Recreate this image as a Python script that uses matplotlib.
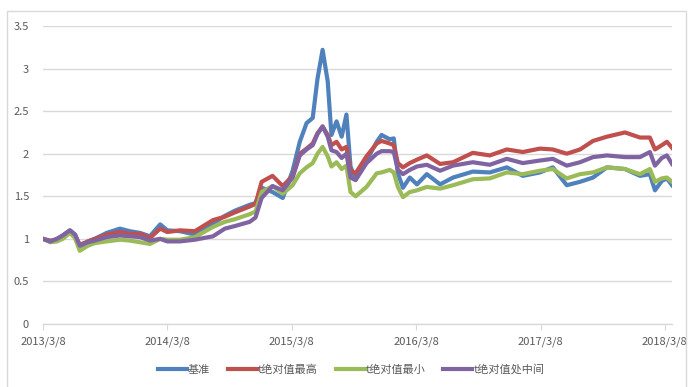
import matplotlib
matplotlib.use('Agg')
import matplotlib.pyplot as plt
import pandas as pd
from matplotlib.patches import Rectangle

plt.rcParams['font.family'] = ['Noto Sans CJK SC', 'DejaVu Sans']

dates = ['2013-03-08', '2013-03-29', '2013-04-18', '2013-05-05', '2013-05-26',
         '2013-06-10', '2013-06-24', '2013-07-18', '2013-08-07', '2013-09-11',
         '2013-10-20', '2013-11-18', '2013-12-18', '2014-01-16', '2014-02-15',
         '2014-03-08', '2014-04-14', '2014-05-28', '2014-07-20', '2014-08-24',
         '2014-09-22', '2014-11-05', '2014-11-22', '2014-12-10', '2015-01-11',
         '2015-02-10', '2015-03-11', '2015-04-01', '2015-04-21', '2015-05-09',
         '2015-05-23', '2015-06-07', '2015-06-22', '2015-07-03', '2015-07-18',
         '2015-08-02', '2015-08-16', '2015-08-28', '2015-09-12', '2015-10-14',
         '2015-11-13', '2015-11-27', '2015-12-21', '2016-01-02', '2016-01-14',
         '2016-01-29', '2016-02-18', '2016-03-10', '2016-04-08', '2016-05-17',
         '2016-06-24', '2016-08-21', '2016-10-10', '2016-11-29', '2017-01-15',
         '2017-03-06', '2017-04-13', '2017-05-24', '2017-07-02', '2017-08-09',
         '2017-09-19', '2017-11-11', '2017-12-25', '2018-01-23', '2018-02-07',
         '2018-02-27', '2018-03-14', '2018-03-29']

benchmark = [1.00, 0.97, 1.00, 1.04, 1.10, 1.05, 0.90, 0.97, 1.00, 1.07,
             1.12, 1.09, 1.07, 1.03, 1.17, 1.10, 1.09, 1.05, 1.18, 1.27,
             1.33, 1.40, 1.42, 1.60, 1.55, 1.48, 1.80, 2.14, 2.36, 2.42,
             2.88, 3.22, 2.85, 2.22, 2.38, 2.20, 2.46, 1.85, 1.70, 1.92,
             2.14, 2.22, 2.17, 2.18, 1.77, 1.60, 1.72, 1.64, 1.76, 1.64,
             1.72, 1.79, 1.78, 1.84, 1.74, 1.78, 1.84, 1.63, 1.67, 1.72,
             1.84, 1.82, 1.74, 1.76, 1.57, 1.68, 1.71, 1.63]

t_high = [1.00, 0.98, 0.98, 1.03, 1.08, 1.04, 0.93, 0.97, 1.00, 1.05,
          1.08, 1.06, 1.06, 1.01, 1.12, 1.08, 1.10, 1.09, 1.22, 1.26,
          1.31, 1.38, 1.41, 1.67, 1.74, 1.62, 1.74, 2.00, 2.06, 2.12,
          2.24, 2.32, 2.22, 2.10, 2.14, 2.05, 2.08, 1.80, 1.77, 1.97,
          2.12, 2.15, 2.12, 2.10, 1.89, 1.84, 1.89, 1.93, 1.98, 1.88,
          1.90, 2.01, 1.98, 2.05, 2.02, 2.06, 2.05, 2.00, 2.05, 2.15,
          2.20, 2.25, 2.19, 2.19, 2.05, 2.10, 2.14, 2.07]

t_low = [1.00, 0.96, 0.97, 1.00, 1.07, 1.01, 0.86, 0.92, 0.95, 0.97,
         0.99, 0.98, 0.96, 0.94, 1.00, 0.99, 0.99, 1.02, 1.14, 1.20,
         1.23, 1.29, 1.32, 1.55, 1.62, 1.53, 1.63, 1.77, 1.84, 1.89,
         2.00, 2.08, 1.97, 1.85, 1.90, 1.82, 1.86, 1.55, 1.50, 1.61,
         1.77, 1.78, 1.81, 1.78, 1.61, 1.49, 1.55, 1.57, 1.61, 1.59,
         1.63, 1.70, 1.71, 1.78, 1.76, 1.80, 1.82, 1.71, 1.76, 1.78,
         1.84, 1.82, 1.76, 1.82, 1.67, 1.71, 1.72, 1.67]

t_mid = [1.00, 0.97, 1.00, 1.04, 1.10, 1.05, 0.92, 0.96, 0.98, 1.02,
         1.04, 1.03, 1.02, 0.98, 1.00, 0.97, 0.97, 0.99, 1.03, 1.12,
         1.15, 1.20, 1.25, 1.48, 1.62, 1.57, 1.72, 1.98, 2.05, 2.10,
         2.23, 2.32, 2.20, 2.04, 2.02, 1.95, 2.00, 1.72, 1.69, 1.89,
         2.00, 2.03, 2.03, 2.02, 1.81, 1.76, 1.81, 1.85, 1.87, 1.80,
         1.86, 1.90, 1.87, 1.94, 1.89, 1.92, 1.94, 1.86, 1.90, 1.96,
         1.98, 1.96, 1.96, 2.02, 1.86, 1.95, 1.98, 1.88]

labels = ['基准', 't绝对值最高', 't绝对值最小', 't绝对值处中间']
colors = ['#4F81BD', '#C0504D', '#9BBB59', '#8064A2']
tick_dates = ['2013-03-08', '2014-03-08', '2015-03-08', '2016-03-08',
              '2017-03-08', '2018-03-08']
tick_labels = ['2013/3/8', '2014/3/8', '2015/3/8', '2016/3/8', '2017/3/8', '2018/3/8']

x = pd.to_datetime(dates)

fig = plt.figure(figsize=(6.93, 3.87), dpi=100, facecolor='white')
ax = fig.add_axes([43 / 693, 1 - 324 / 387, (672 - 43) / 693, (324 - 26) / 387])

# excel draws series in order, last one on top
for series, lab, col in zip([benchmark, t_high, t_low, t_mid], labels, colors):
    ax.plot(x, series, color=col, lw=3, label=lab, solid_joinstyle='round')

ax.set_ylim(0, 3.5)
ax.set_yticks([0, 0.5, 1, 1.5, 2, 2.5, 3, 3.5])
ax.set_yticklabels(['0', '0.5', '1', '1.5', '2', '2.5', '3', '3.5'])
ax.set_xlim(pd.Timestamp('2013-03-08'), pd.Timestamp('2018-03-29'))
ax.set_xticks(pd.to_datetime(tick_dates))
ax.set_xticklabels(tick_labels)

ax.grid(axis='y', color='#D9D9D9', lw=1)
ax.set_axisbelow(True)
for s in ['left', 'right', 'top']:
    ax.spines[s].set_visible(False)
ax.spines['bottom'].set_color('#D9D9D9')
ax.spines['bottom'].set_linewidth(1)
ax.tick_params(axis='y', length=0, pad=10, labelsize=8, labelcolor='#595959')
ax.tick_params(axis='x', length=4, color='#D9D9D9', pad=5, labelsize=8,
               labelcolor='#595959')

leg = ax.legend(loc='upper center', bbox_to_anchor=(0.49, -0.1), ncol=4,
                frameon=False, fontsize=8, handlelength=2.6, handletextpad=0.1,
                columnspacing=1.6)
for t in leg.get_texts():
    t.set_color('#595959')

fig.patches.append(Rectangle((7 / 693, -0.05), (686 - 7) / 693, 1.05 - 11 / 387,
                             transform=fig.transFigure, fill=False,
                             edgecolor='#D9D9D9', lw=1))

fig.savefig('out.png', dpi=100, facecolor='white')
